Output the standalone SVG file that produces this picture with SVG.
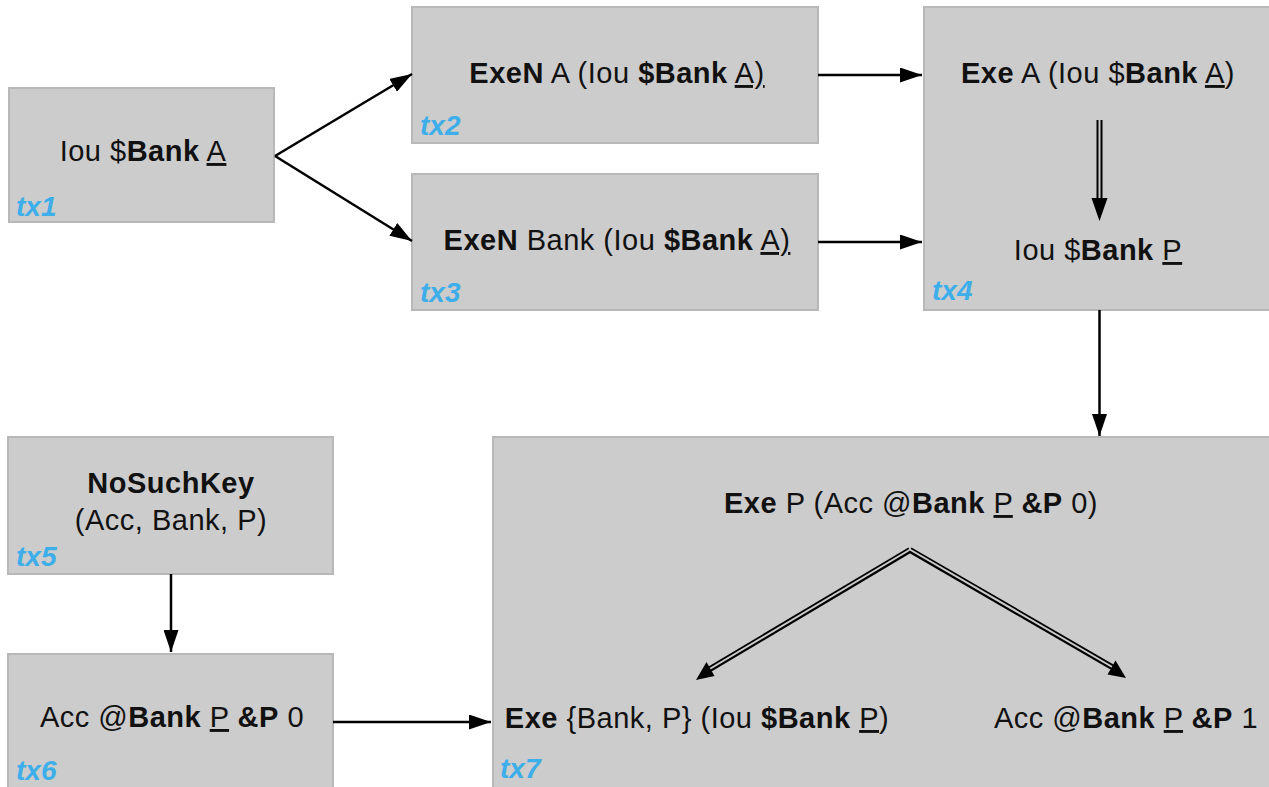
<svg xmlns="http://www.w3.org/2000/svg" width="1269" height="787" viewBox="0 0 1269 787">
<style>
.box{fill:#cccccc;stroke:#b8b8b8;stroke-width:2}
.t{font-family:"Liberation Sans",Arial,sans-serif;font-size:29px;letter-spacing:0.5px;fill:#111;text-anchor:middle}
.b{font-weight:bold}
.u{text-decoration:underline}
.lbl{font-family:"Liberation Sans",Arial,sans-serif;font-size:28px;font-weight:bold;font-style:italic;fill:#3daee9}
.ln{stroke:#000;stroke-width:2.5;fill:none}
.dbo{stroke:#000;stroke-width:6;fill:none}
.dbi{stroke:#cccccc;stroke-width:2;fill:none}
</style>
<defs>
<marker id="ah" viewBox="0 0 22 15" refX="22" refY="7.5" markerWidth="22" markerHeight="15" markerUnits="userSpaceOnUse" orient="auto">
<path d="M0,0 L22,7.5 L0,15 z" fill="#000"/>
</marker>
</defs>
<rect width="1269" height="787" fill="#fff"/>

<g id="tx1">
<rect class="box" x="9" y="88" width="265" height="134"/>
<text class="t" x="143" y="161">Iou $<tspan class="b">Bank</tspan> <tspan class="u">A</tspan></text>
<text class="lbl" x="16" y="216">tx1</text>
</g>

<g id="tx2">
<rect class="box" x="412" y="7" width="406" height="136"/>
<text class="t" x="617" y="83"><tspan class="b">ExeN</tspan> A (Iou <tspan class="b">$Bank</tspan> <tspan class="u">A)</tspan></text>
<text class="lbl" x="420" y="135">tx2</text>
</g>

<g id="tx3">
<rect class="box" x="412" y="174" width="406" height="136"/>
<text class="t" x="617" y="250"><tspan class="b">ExeN</tspan> Bank (Iou <tspan class="b">$Bank</tspan> <tspan class="u">A)</tspan></text>
<text class="lbl" x="420" y="302">tx3</text>
</g>

<g id="tx4">
<rect class="box" x="924" y="7" width="350" height="303"/>
<text class="t" x="1098" y="83"><tspan class="b">Exe</tspan> A (Iou $<tspan class="b">Bank</tspan> <tspan class="u">A</tspan>)</text>
<path class="dbo" d="M1099.5,120 V204"/>
<path class="dbi" d="M1099.5,119 V206"/>
<path d="M1091.5,198 L1107.5,198 L1099.5,221 z" fill="#000"/>
<text class="t" x="1098" y="260">Iou $<tspan class="b">Bank</tspan> <tspan class="u">P</tspan></text>
<text class="lbl" x="932" y="300">tx4</text>
</g>

<g id="tx5">
<rect class="box" x="8" y="437" width="325" height="137"/>
<text class="t b" x="171" y="493">NoSuchKey</text>
<text class="t" x="171" y="530">(Acc, Bank, P)</text>
<text class="lbl" x="16" y="566">tx5</text>
</g>

<g id="tx6">
<rect class="box" x="8" y="654" width="325" height="145"/>
<text class="t" x="172" y="727">Acc @<tspan class="b">Bank</tspan> <tspan class="u">P</tspan> <tspan class="b">&amp;P</tspan> 0</text>
<text class="lbl" x="16" y="780">tx6</text>
</g>

<g id="tx7">
<rect class="box" x="493" y="437" width="790" height="362"/>
<text class="t" x="911" y="513"><tspan class="b">Exe</tspan> P (Acc @<tspan class="b">Bank</tspan> <tspan class="u">P</tspan> <tspan class="b">&amp;P</tspan> 0)</text>
<path class="dbo" d="M910,550 L710,669"/>
<path class="dbi" d="M911,549 L708,670"/>
<path class="dbo" d="M910,550 L1112,667"/>
<path class="dbi" d="M909,549 L1114,668"/>
<path d="M696,680 L706.5,662 L714.5,676 z" fill="#000"/>
<path d="M1126,678 L1107.5,674.5 L1115.5,660.5 z" fill="#000"/>
<text class="t" x="697" y="728"><tspan class="b">Exe</tspan> {Bank, P} (Iou <tspan class="b">$Bank</tspan> <tspan class="u">P</tspan>)</text>
<text class="t" x="1126" y="728">Acc @<tspan class="b">Bank</tspan> <tspan class="u">P</tspan> <tspan class="b">&amp;P</tspan> 1</text>
<text class="lbl" x="500" y="778">tx7</text>
</g>

<g id="connectors">
<path class="ln" d="M275,156 L412,74" marker-end="url(#ah)"/>
<path class="ln" d="M275,156 L412,241" marker-end="url(#ah)"/>
<path class="ln" d="M818,75 L922,75" marker-end="url(#ah)"/>
<path class="ln" d="M818,242 L922,242" marker-end="url(#ah)"/>
<path class="ln" d="M1099.5,310 L1099.5,436" marker-end="url(#ah)"/>
<path class="ln" d="M171,574 L171,652" marker-end="url(#ah)"/>
<path class="ln" d="M333,722 L491,722" marker-end="url(#ah)"/>
</g>
</svg>
